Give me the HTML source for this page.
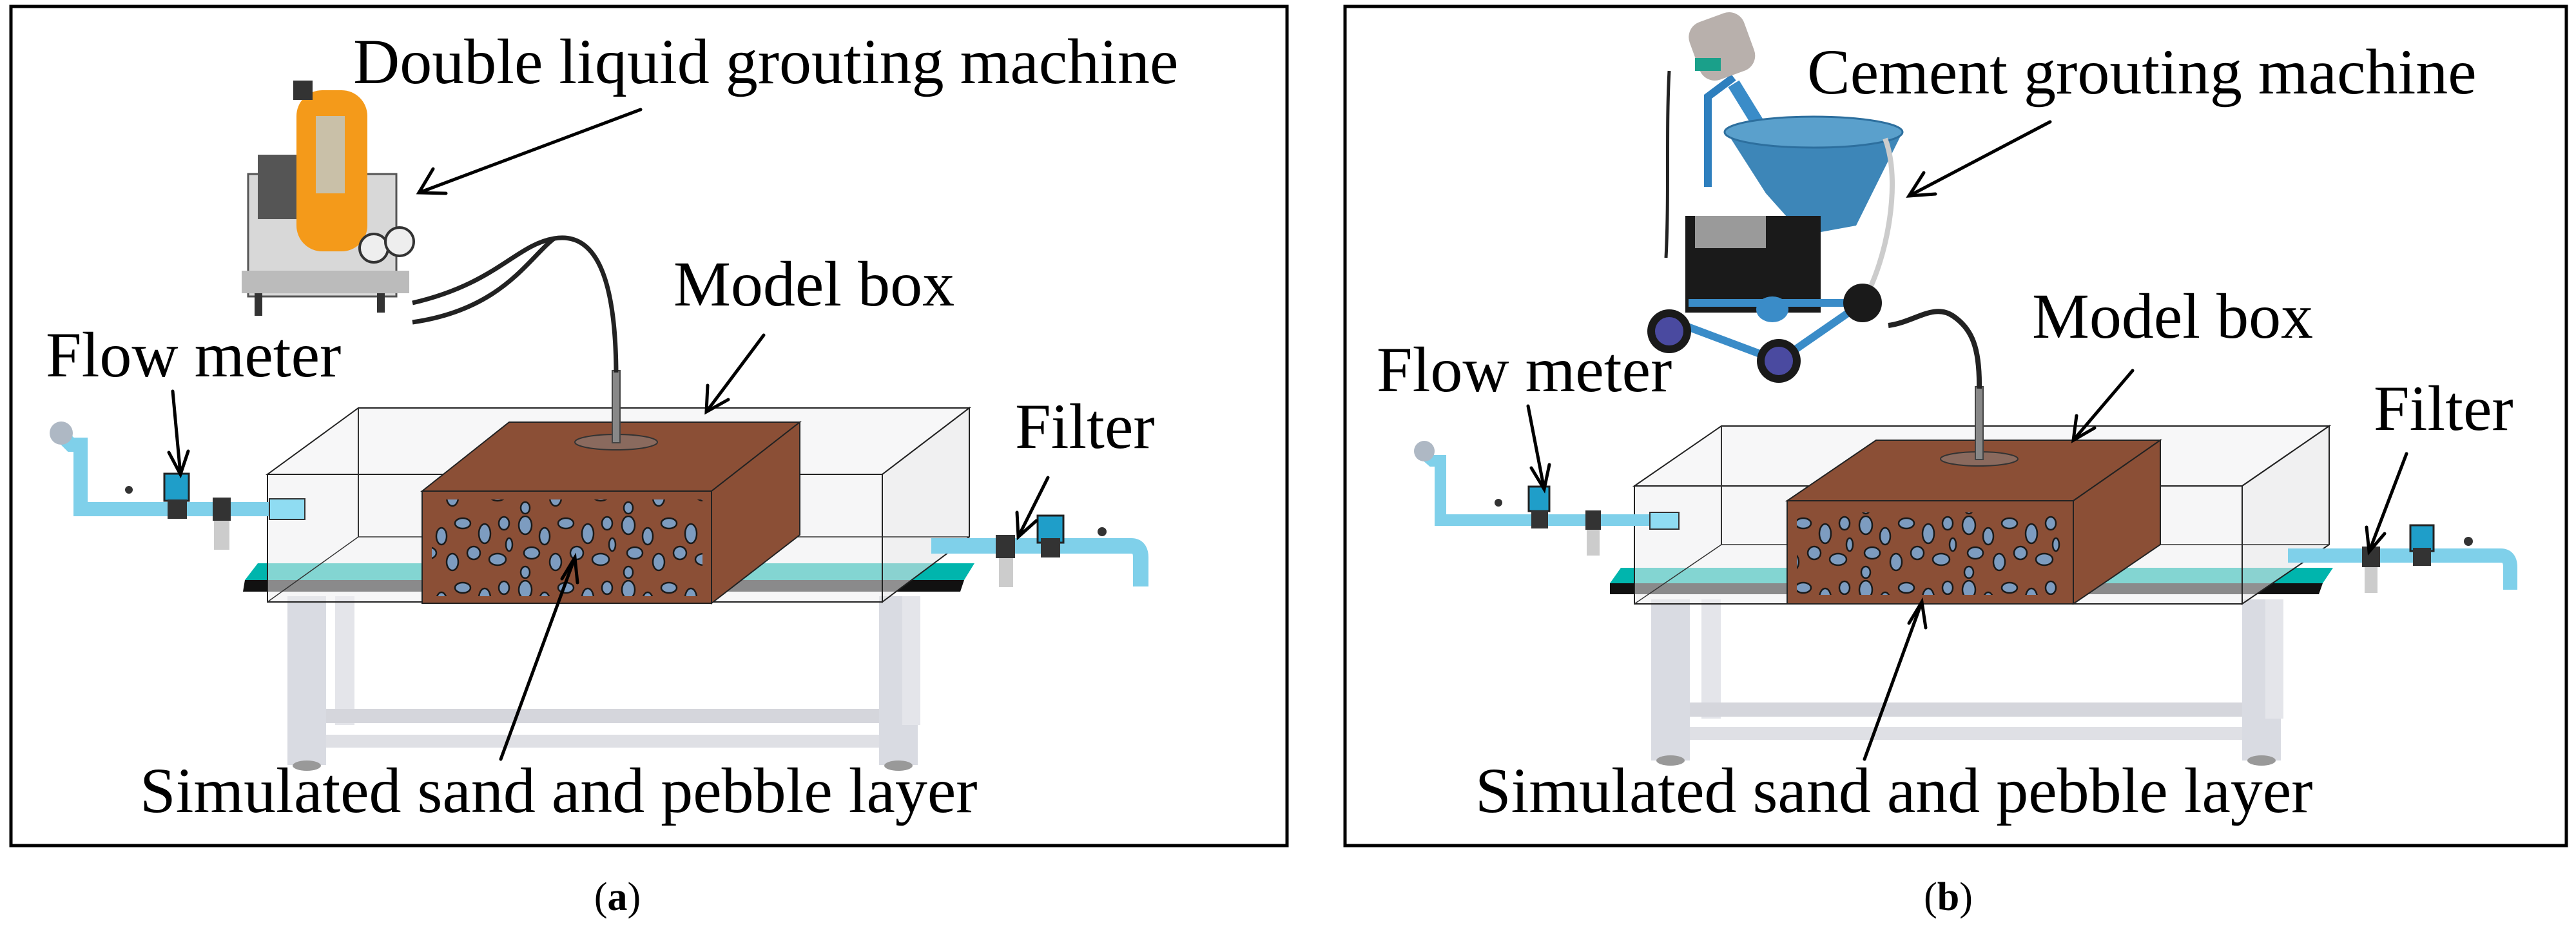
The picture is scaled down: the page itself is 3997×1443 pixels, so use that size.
<!DOCTYPE html>
<html><head><meta charset="utf-8"><style>
html,body{margin:0;padding:0;background:#fff}
svg{display:block}
.t{font-family:"Liberation Serif","Times New Roman",serif;fill:#000}
</style></head><body>
<svg width="3997" height="1443" viewBox="0 0 3997 1443" xmlns="http://www.w3.org/2000/svg">
<defs>
<pattern id="peb" x="0" y="0" width="160" height="100" patternUnits="userSpaceOnUse">
<g fill="#7d9cc0" stroke="#1a1a1a" stroke-width="2.5">
<ellipse cx="15" cy="15" rx="10" ry="14"/><ellipse cx="45" cy="32" rx="8" ry="13"/>
<ellipse cx="78" cy="12" rx="12" ry="8"/><ellipse cx="112" cy="28" rx="9" ry="15"/>
<ellipse cx="142" cy="12" rx="8" ry="10"/><ellipse cx="25" cy="58" rx="12" ry="9"/>
<ellipse cx="62" cy="72" rx="9" ry="13"/><ellipse cx="95" cy="58" rx="10" ry="10"/>
<ellipse cx="132" cy="68" rx="13" ry="9"/><ellipse cx="15" cy="88" rx="7" ry="9"/>
<ellipse cx="150" cy="45" rx="5" ry="10"/>
</g></pattern>
</defs>

<rect x="17" y="10" width="1980" height="1302" fill="none" stroke="#000" stroke-width="5"/>
<rect x="2087" y="10" width="1895" height="1302" fill="none" stroke="#000" stroke-width="5"/>

<!-- ===== PANEL A ===== -->
<g>
<rect x="446" y="925" width="60" height="262" fill="#d9dbe2"/>
<rect x="1364" y="925" width="60" height="262" fill="#d9dbe2"/>
<rect x="520" y="925" width="30" height="200" fill="#e4e5ea"/>
<rect x="1400" y="925" width="28" height="200" fill="#e4e5ea"/>
<rect x="506" y="1100" width="858" height="22" fill="#d5d6dc"/>
<rect x="506" y="1140" width="858" height="20" fill="#dfe0e5"/>
<ellipse cx="476" cy="1188" rx="22" ry="8" fill="#999"/>
<ellipse cx="1394" cy="1188" rx="22" ry="8" fill="#999"/>
<polygon points="400,874 1512,874 1496,900 380,900" fill="#00b5ad"/>
<polygon points="380,900 1496,900 1490,918 377,918" fill="#111"/>
<polygon points="415,736 1369,736 1504,633 556,633" fill="#f2f2f4" fill-opacity="0.6" stroke="#222" stroke-width="2"/>
<rect x="415" y="736" width="954" height="198" fill="#eeeef0" fill-opacity="0.55" stroke="#222" stroke-width="2"/>
<polygon points="1369,736 1504,633 1504,833 1369,934" fill="#e6e6e8" fill-opacity="0.6" stroke="#222" stroke-width="2"/>
<line x1="556" y1="633" x2="556" y2="833" stroke="#333" stroke-width="2"/>
<line x1="556" y1="833" x2="1504" y2="833" stroke="#333" stroke-width="1.5"/>
<line x1="415" y1="934" x2="556" y2="833" stroke="#333" stroke-width="1.5"/>
<polygon points="655,762 790,655 1241,655 1104,762" fill="#8b4f36" stroke="#222" stroke-width="2"/>
<polygon points="1104,762 1241,655 1241,830 1104,936" fill="#8b4f36" stroke="#222" stroke-width="2"/>
<rect x="655" y="762" width="449" height="174" fill="#8b4f36" stroke="#222" stroke-width="2"/>
<rect x="670" y="775" width="420" height="150" fill="url(#peb)"/>
<ellipse cx="956" cy="686" rx="64" ry="12" fill="#8a6a5e" stroke="#333" stroke-width="2"/>
<rect x="950" y="575" width="12" height="112" fill="#888" stroke="#444" stroke-width="2"/>
<path d="M956,578 C955,420 920,360 860,370 C800,380 770,440 640,470" fill="none" stroke="#222" stroke-width="7"/>
<path d="M860,370 C820,400 780,480 640,500" fill="none" stroke="#222" stroke-width="7"/>
<rect x="385" y="270" width="230" height="190" fill="#d8d8d8" stroke="#555" stroke-width="3"/>
<rect x="460" y="140" width="110" height="250" rx="40" fill="#f49a1a"/>
<rect x="490" y="180" width="45" height="120" fill="#c9c0a8"/>
<rect x="455" y="125" width="30" height="30" fill="#333"/>
<rect x="400" y="240" width="60" height="100" fill="#555"/>
<circle cx="580" cy="385" r="22" fill="#eee" stroke="#333" stroke-width="4"/>
<circle cx="620" cy="375" r="22" fill="#eee" stroke="#333" stroke-width="4"/>
<rect x="375" y="420" width="260" height="35" fill="#bbb"/>
<rect x="395" y="455" width="12" height="35" fill="#333"/>
<rect x="585" y="455" width="12" height="30" fill="#333"/>
<path d="M90,670 L110,690 L125,690 L125,790 L450,790" fill="none" stroke="#7fd0ea" stroke-width="22"/>
<circle cx="95" cy="672" r="18" fill="#aeb8c4"/>
<rect x="255" y="735" width="38" height="42" fill="#1f9ec9" stroke="#222" stroke-width="3"/>
<rect x="260" y="775" width="30" height="30" fill="#333"/>
<rect x="330" y="772" width="28" height="36" fill="#333"/>
<rect x="332" y="808" width="24" height="45" fill="#ccc"/>
<rect x="418" y="774" width="55" height="32" fill="#8fdcf2" stroke="#333" stroke-width="2"/>
<circle cx="200" cy="760" r="6" fill="#333"/>
<path d="M1445,847 L1755,847 Q1770,847 1770,865 L1770,910" fill="none" stroke="#7fd0ea" stroke-width="24"/>
<rect x="1545" y="830" width="30" height="36" fill="#333"/>
<rect x="1550" y="866" width="22" height="45" fill="#ccc"/>
<rect x="1610" y="800" width="40" height="42" fill="#1f9ec9" stroke="#222" stroke-width="3"/>
<rect x="1615" y="835" width="30" height="30" fill="#333"/>
<circle cx="1710" cy="825" r="7" fill="#333"/>
</g>

<!-- ===== PANEL B ===== -->
<g>
<rect x="2562" y="930" width="60" height="250" fill="#d9dbe2"/>
<rect x="3479" y="930" width="60" height="250" fill="#d9dbe2"/>
<rect x="2640" y="930" width="30" height="185" fill="#e4e5ea"/>
<rect x="3515" y="930" width="28" height="185" fill="#e4e5ea"/>
<rect x="2622" y="1090" width="857" height="22" fill="#d5d6dc"/>
<rect x="2622" y="1128" width="857" height="20" fill="#dfe0e5"/>
<ellipse cx="2592" cy="1180" rx="22" ry="8" fill="#999"/>
<ellipse cx="3509" cy="1180" rx="22" ry="8" fill="#999"/>
<polygon points="2515,881 3620,881 3604,905 2498,905" fill="#00b5ad"/>
<polygon points="2498,905 3604,905 3598,922 2498,922" fill="#111"/>
<polygon points="2536,754 3479,754 3614,661 2671,661" fill="#f2f2f4" fill-opacity="0.6" stroke="#222" stroke-width="2"/>
<rect x="2536" y="754" width="943" height="183" fill="#eeeef0" fill-opacity="0.55" stroke="#222" stroke-width="2"/>
<polygon points="3479,754 3614,661 3614,845 3479,937" fill="#e6e6e8" fill-opacity="0.6" stroke="#222" stroke-width="2"/>
<line x1="2671" y1="661" x2="2671" y2="845" stroke="#333" stroke-width="2"/>
<line x1="2671" y1="845" x2="3614" y2="845" stroke="#333" stroke-width="1.5"/>
<line x1="2536" y1="937" x2="2671" y2="845" stroke="#333" stroke-width="1.5"/>
<polygon points="2773,777 2911,683 3352,683 3217,777" fill="#8b4f36" stroke="#222" stroke-width="2"/>
<polygon points="3217,777 3352,683 3352,845 3217,937" fill="#8b4f36" stroke="#222" stroke-width="2"/>
<rect x="2773" y="777" width="444" height="160" fill="#8b4f36" stroke="#222" stroke-width="2"/>
<rect x="2788" y="795" width="415" height="128" fill="url(#peb)"/>
<ellipse cx="3071" cy="712" rx="60" ry="11" fill="#8a6a5e" stroke="#333" stroke-width="2"/>
<rect x="3065" y="600" width="12" height="113" fill="#888" stroke="#444" stroke-width="2"/>
<path d="M3071,603 C3072,540 3060,510 3030,490 C3000,470 2970,500 2930,505" fill="none" stroke="#222" stroke-width="8"/>
<path d="M2650,290 L2650,150 L2690,120" fill="none" stroke="#2e7fbe" stroke-width="12"/>
<path d="M2690,130 L2770,260" fill="none" stroke="#3a8cc8" stroke-width="20"/>
<polygon points="2676,200 2952,205 2880,350 2798,365 2740,300" fill="#3d86b8"/>
<ellipse cx="2814" cy="205" rx="138" ry="24" fill="#5aa0cc" stroke="#2d6f9e" stroke-width="3"/>
<rect x="2626" y="25" width="90" height="95" rx="25" fill="#b8b0ac" transform="rotate(-20 2670 70)"/>
<rect x="2630" y="90" width="40" height="20" fill="#1aa08a"/>
<path d="M2590,110 C2585,200 2590,300 2585,400" fill="none" stroke="#222" stroke-width="5"/>
<rect x="2615" y="335" width="210" height="150" fill="#1a1a1a"/>
<rect x="2630" y="335" width="110" height="50" fill="#9a9a9a"/>
<path d="M2600,500 L2760,560 L2890,470 M2620,470 L2880,470" fill="none" stroke="#3a8cc8" stroke-width="12"/>
<ellipse cx="2750" cy="480" rx="25" ry="20" fill="#3a8cc8"/>
<path d="M2925,215 C2950,280 2930,400 2890,470" fill="none" stroke="#ccc" stroke-width="8"/>
<circle cx="2590" cy="514" r="34" fill="#1a1a1a"/><circle cx="2590" cy="514" r="22" fill="#4a4aa0"/>
<circle cx="2760" cy="560" r="34" fill="#1a1a1a"/><circle cx="2760" cy="560" r="22" fill="#4a4aa0"/>
<circle cx="2890" cy="470" r="30" fill="#1a1a1a"/>
<path d="M2205,700 L2222,715 L2235,715 L2235,807 L2600,807" fill="none" stroke="#7fd0ea" stroke-width="18"/>
<circle cx="2210" cy="700" r="16" fill="#aeb8c4"/>
<rect x="2372" y="755" width="32" height="38" fill="#1f9ec9" stroke="#222" stroke-width="3"/>
<rect x="2376" y="792" width="26" height="28" fill="#333"/>
<rect x="2460" y="792" width="24" height="30" fill="#333"/>
<rect x="2462" y="822" width="20" height="40" fill="#ccc"/>
<rect x="2560" y="795" width="45" height="26" fill="#8fdcf2" stroke="#333" stroke-width="2"/>
<circle cx="2325" cy="780" r="6" fill="#333"/>
<path d="M3550,862 L3880,862 Q3895,862 3895,880 L3895,915" fill="none" stroke="#7fd0ea" stroke-width="22"/>
<rect x="3665" y="848" width="28" height="32" fill="#333"/>
<rect x="3669" y="880" width="20" height="40" fill="#ccc"/>
<rect x="3740" y="815" width="36" height="40" fill="#1f9ec9" stroke="#222" stroke-width="3"/>
<rect x="3744" y="850" width="28" height="28" fill="#333"/>
<circle cx="3830" cy="840" r="7" fill="#333"/>
</g>

<g stroke="#000" stroke-width="5" fill="none" stroke-linecap="round">
<line x1="994" y1="170" x2="650" y2="299"/><path d="M672,262 L650,299 L692,300"/>
<line x1="1185" y1="520" x2="1096" y2="639"/><path d="M1098,598 L1096,639 L1130,620"/>
<line x1="268" y1="607" x2="280" y2="736"/><path d="M262,702 L280,736 L292,700"/>
<line x1="1626" y1="741" x2="1580" y2="833"/><path d="M1578,795 L1580,833 L1608,808"/>
<line x1="777" y1="1178" x2="892" y2="865"/><path d="M872,898 L892,865 L896,904"/>
<line x1="3181" y1="189" x2="2962" y2="304"/><path d="M2985,268 L2962,304 L3003,301"/>
<line x1="3309" y1="575" x2="3217" y2="683"/><path d="M3222,645 L3217,683 L3250,664"/>
<line x1="2371" y1="630" x2="2396" y2="759"/><path d="M2376,726 L2396,759 L2404,721"/>
<line x1="3734" y1="704" x2="3676" y2="856"/><path d="M3672,818 L3676,856 L3700,828"/>
<line x1="2893" y1="1178" x2="2982" y2="934"/><path d="M2962,967 L2982,934 L2988,974"/>
</g>

<g class="t" font-size="100">
<text class="t" x="548" y="129">Double liquid grouting machine</text>
<text class="t" x="1045" y="474">Model box</text>
<text class="t" x="71" y="584">Flow meter</text>
<text class="t" x="1575" y="695">Filter</text>
<text class="t" x="217" y="1260">Simulated sand and pebble layer</text>
<text class="t" x="2804" y="145">Cement grouting machine</text>
<text class="t" x="3153" y="524">Model box</text>
<text class="t" x="2136" y="607">Flow meter</text>
<text class="t" x="3683" y="667">Filter</text>
<text class="t" x="2289" y="1260">Simulated sand and pebble layer</text>
</g>
<g class="t" font-size="62">
<text class="t" x="958" y="1412" text-anchor="middle">(<tspan font-weight="bold">a</tspan>)</text>
<text class="t" x="3023" y="1412" text-anchor="middle">(<tspan font-weight="bold">b</tspan>)</text>
</g>
</svg>
</body></html>
